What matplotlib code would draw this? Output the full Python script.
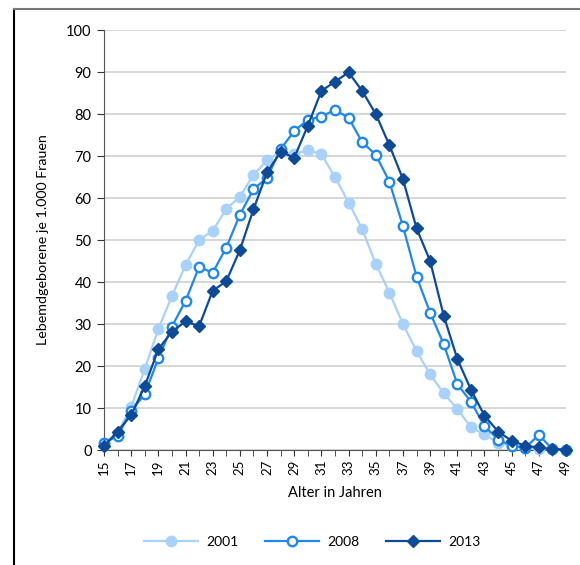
import matplotlib
matplotlib.use("Agg")
import matplotlib.pyplot as plt
from matplotlib.lines import Line2D
import numpy as np

plt.rcParams['font.family'] = ['Lato', 'DejaVu Sans']

# Alter 15..49
alter = list(range(15, 50))

g2001 = [1.5, 4.0, 10.3, 19.3, 28.8, 36.7, 44.0, 50.0, 52.2, 57.4, 60.3, 65.5,
         69.0, 71.0, 70.4, 71.4, 70.4, 65.0, 58.9, 52.6, 44.3, 37.5, 30.0, 23.6,
         18.0, 13.5, 9.8, 5.4, 3.7, 1.7, 1.0, 0.5, 0.3, 0.2, 0.1]
g2008 = [1.6, 3.4, 9.3, 13.3, 21.8, 29.4, 35.5, 43.6, 42.2, 48.2, 56.0, 62.1,
         64.8, 71.6, 76.0, 78.6, 79.4, 81.0, 79.1, 73.3, 70.3, 63.9, 53.3, 41.3,
         32.7, 25.2, 15.7, 11.5, 5.7, 2.5, 1.0, 0.5, 3.6, 0.2, 0.1]
g2013 = [0.9, 4.4, 8.3, 15.2, 24.0, 28.2, 30.6, 29.5, 37.9, 40.2, 47.6, 57.3,
         66.1, 71.0, 69.6, 77.2, 85.5, 87.7, 89.9, 85.5, 80.0, 72.6, 64.5, 52.8,
         45.0, 32.0, 21.7, 14.4, 8.2, 4.4, 2.2, 1.0, 0.6, 0.2, 0.1]

c2001 = '#a8d1fb'
c2008 = '#1f88f0'
c2013 = '#0d4a97'

fig = plt.figure(figsize=(5.8, 5.65), dpi=100)
ax = fig.add_axes([104/580, 115/565, 462/580, 420/565])

ax.plot(alter, g2001, color=c2001, lw=1.6, marker='o', ms=7.5, mfc=c2001, mec=c2001,
        clip_on=False, zorder=3)
ax.plot(alter, g2008, color=c2008, lw=1.6, marker='o', ms=6.8, mfc='white', mec=c2008,
        mew=1.7, clip_on=False, zorder=4)
ax.plot(alter, g2013, color=c2013, lw=1.6, marker='D', ms=5.8, mfc=c2013, mec=c2013,
        clip_on=False, zorder=5)

ax.set_xlim(15, 49)
ax.set_ylim(0, 100)
ax.set_yticks(range(0, 101, 10))
ax.set_xticks(range(15, 50, 2))
ax.set_xticks(range(15, 50), minor=True)
ax.tick_params(axis='x', which='both', direction='out', length=4, color='#333333',
               labelrotation=90, labelsize=9.5, pad=3)
ax.tick_params(axis='y', direction='out', length=5, color='#333333', labelsize=10.5, pad=4)
ax.yaxis.grid(True, color='#d0d0d0', lw=1.2)
ax.set_axisbelow(True)
for s in ['top', 'right']:
    ax.spines[s].set_visible(False)
ax.spines['left'].set_color('#555555')
ax.spines['bottom'].set_color('#555555')

ax.set_xlabel('Alter in Jahren', fontsize=10.5, labelpad=8)
ax.set_ylabel('Lebemdgeborene je 1.000 Frauen', fontsize=10.3, labelpad=12)

handles = [
    Line2D([], [], color=c2001, lw=1.6, marker='o', ms=7.5, mfc=c2001, mec=c2001),
    Line2D([], [], color=c2008, lw=1.6, marker='o', ms=6.8, mfc='white', mec=c2008, mew=1.7),
    Line2D([], [], color=c2013, lw=1.6, marker='D', ms=5.8, mfc=c2013, mec=c2013),
]
fig.legend(handles, ['2001', '2008', '2013'], loc='center', bbox_to_anchor=(312/580, 1 - 542/565),
           ncol=3, frameon=False, fontsize=10, handlelength=3.9, columnspacing=1.9,
           handletextpad=0.6)

# Rahmen links und oben
fig.add_artist(Line2D([14/580, 14/580], [0, 1 - 9/565], transform=fig.transFigure,
                      color='black', lw=1.5))
fig.add_artist(Line2D([14/580, 1], [1 - 9/565, 1 - 9/565], transform=fig.transFigure,
                      color='#777777', lw=1.5))

fig.savefig('out.png', dpi=100)
